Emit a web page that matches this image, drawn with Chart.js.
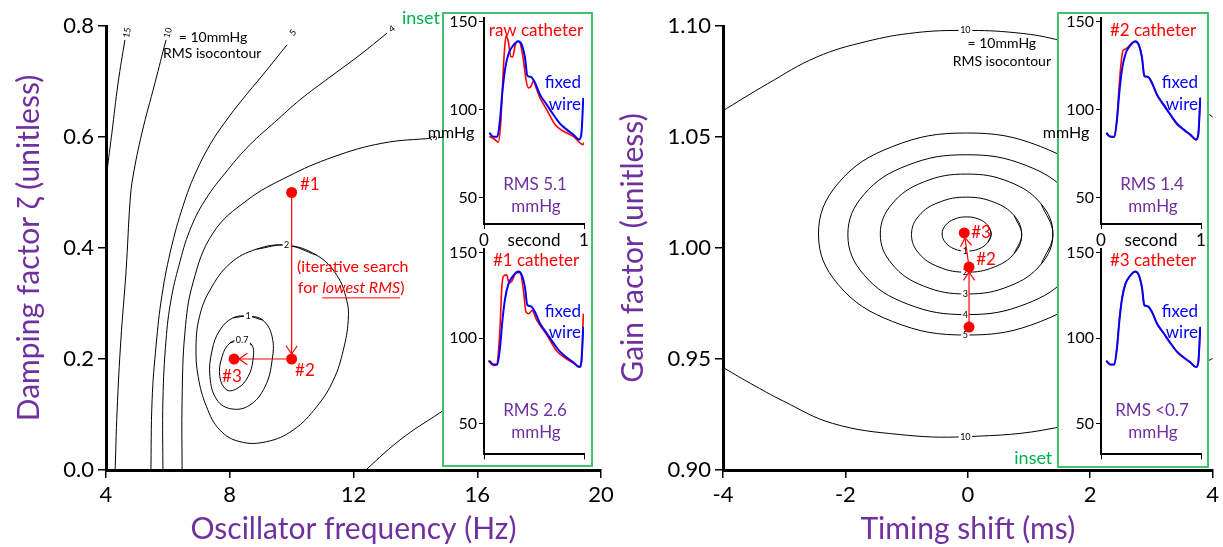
<!DOCTYPE html>
<html>
<head>
<meta charset="utf-8">
<script src="https://cdn.jsdelivr.net/npm/chart.js@4.4.1/dist/chart.umd.min.js"></script>
<style>
  html, body { margin: 0; padding: 0; background: #fff; }
  body { width: 1223px; height: 547px; position: relative; overflow: hidden; }
  canvas { position: absolute; }
  .box { position: absolute; border: 2px solid #45C06E; background: #fff; box-sizing: border-box; }
</style>
</head>
<body>
<canvas id="mainL" width="620" height="547" style="left:0;top:0"></canvas>
<canvas id="mainR" width="618" height="547" style="left:605px;top:0"></canvas>
<div class="box" style="left:442px;top:12px;width:151px;height:455px"></div>
<div class="box" style="left:1057px;top:12px;width:152px;height:456px"></div>
<canvas id="insLA" width="172" height="248" style="left:420px;top:5px"></canvas>
<canvas id="insLB" width="172" height="230" style="left:420px;top:236px"></canvas>
<canvas id="insRA" width="172" height="248" style="left:1037px;top:5px"></canvas>
<canvas id="insRB" width="172" height="230" style="left:1037px;top:236px"></canvas>
<script>
const FONT = 'Lato, "DejaVu Sans", sans-serif';
const PURPLE = '#7030A0', GREEN = '#00B050', RED = '#FF0000', BLUE = '#0000FF';

// ---- left panel: RMS isocontours, [oscillator frequency Hz, damping factor]
const iso15 = [[4.61, 0.775], [4.39, 0.697], [4.19, 0.607], [4.06, 0.550], [3.98, 0.510]];
const iso10L = [[5.94, 0.775], [5.58, 0.697], [5.16, 0.607], [4.87, 0.528], [4.78, 0.486], [4.65, 0.360], [4.48, 0.234], [4.36, 0.108], [4.29, -0.01]];
const iso5L = [[9.85, 0.766], [9.07, 0.712], [8.40, 0.667], [7.85, 0.627], [7.36, 0.586], [6.91, 0.537], [6.55, 0.486], [6.13, 0.405], [5.81, 0.315], [5.62, 0.225], [5.49, 0.126], [5.45, -0.01]];
const iso4L = [[13.08, 0.787], [12.21, 0.748], [11.24, 0.708], [10.27, 0.667], [9.46, 0.627], [8.65, 0.586], [7.94, 0.541], [7.20, 0.486], [6.71, 0.432], [6.36, 0.369], [6.10, 0.306], [5.94, 0.234], [5.84, 0.126], [5.84, -0.01]];
const iso3Ltop = [[15.2, 0.601], [14.57, 0.598], [12.95, 0.589], [11.34, 0.564], [9.85, 0.528], [8.56, 0.486], [7.46, 0.427], [6.81, 0.337], [6.55, 0.247], [6.46, 0.126], [6.46, -0.01]];
const iso3Lside = [[12.2, -0.01], [13.50, 0.054], [14.79, 0.103], [15.44, 0.126]];
const iso2L = [[9.84, 0.405], [10.81, 0.387], [11.46, 0.351], [11.78, 0.306], [11.83, 0.270], [11.67, 0.216], [11.35, 0.162], [10.81, 0.114], [10.05, 0.072], [9.19, 0.051], [8.33, 0.051], [7.68, 0.072], [7.25, 0.114], [6.98, 0.168], [6.91, 0.222], [7.02, 0.276], [7.36, 0.324], [8.01, 0.372], [8.87, 0.398]];
const iso1L = [[8.59, 0.277], [9.07, 0.270], [9.37, 0.240], [9.37, 0.198], [9.14, 0.150], [8.65, 0.117], [8.07, 0.110], [7.59, 0.126], [7.36, 0.168], [7.43, 0.216], [7.68, 0.252], [8.10, 0.274]];
const iso07L = [[8.40, 0.234], [8.72, 0.225], [8.75, 0.198], [8.59, 0.168], [8.27, 0.148], [7.91, 0.144], [7.68, 0.168], [7.75, 0.204], [8.01, 0.229]];
const searchL = [[10, 0.5], [10, 0.2], [8.14, 0.2]];   // #1, #2, #3

// ---- right panel: RMS isocontours, [timing shift ms, gain factor]
const iso10Rtop = [[-4.05, 1.061], [-3.27, 1.074], [-2.47, 1.086], [-1.66, 1.093], [-0.85, 1.097], [-0.04, 1.098], [0.77, 1.097], [1.43, 1.094], [2.4, 1.086], [3.2, 1.074], [3.85, 1.062], [4.05, 1.058]];
const iso10Rbot = [[-4.05, 0.947], [-3.55, 0.939], [-3.01, 0.931], [-2.21, 0.921], [-1.12, 0.916], [-0.04, 0.915], [1.43, 0.919], [2.5, 0.929], [3.85, 0.948], [4.05, 0.951]];
const iso5R = [[2.40, 1.0063], [2.08, 1.0291], [1.19, 1.0457], [-0.02, 1.0518], [-1.23, 1.0457], [-2.12, 1.0291], [-2.44, 1.0063], [-2.12, 0.9836], [-1.23, 0.9669], [-0.02, 0.9608], [1.19, 0.9669], [2.08, 0.9836]];
const iso4R = [[1.92, 1.006], [1.66, 1.024], [0.95, 1.0372], [-0.02, 1.042], [-0.99, 1.0372], [-1.70, 1.024], [-1.96, 1.006], [-1.70, 0.988], [-0.99, 0.9748], [-0.02, 0.970], [0.95, 0.9748], [1.66, 0.988]];
const iso3R = [[1.39, 1.0063], [1.20, 1.0198], [0.685, 1.0297], [-0.02, 1.0333], [-0.725, 1.0297], [-1.24, 1.0198], [-1.43, 1.0063], [-1.24, 0.9928], [-0.725, 0.9829], [-0.02, 0.9793], [0.685, 0.9829], [1.20, 0.9928]];
const iso2R = [[0.88, 1.006], [0.76, 1.0145], [0.43, 1.0206], [-0.02, 1.0229], [-0.47, 1.0206], [-0.80, 1.0145], [-0.92, 1.006], [-0.80, 0.9976], [-0.47, 0.9914], [-0.02, 0.9891], [0.43, 0.9914], [0.76, 0.9976]];
const iso1R = [[0.38, 1.0063], [0.326, 1.0102], [0.18, 1.0130], [-0.02, 1.0140], [-0.22, 1.0130], [-0.366, 1.0102], [-0.42, 1.0063], [-0.366, 1.0025], [-0.22, 0.9996], [-0.02, 0.9986], [0.18, 0.9996], [0.326, 1.0025]];
const searchR = [[0.02, 0.9644], [0.02, 0.9914], [-0.058, 1.0068]];

// ---- inset waveforms, [second, mmHg]
const fixedWire = [[0.053, 86.8], [0.093, 84.5], [0.133, 84.5], [0.16, 94.3], [0.183, 109.5], [0.21, 122.7], [0.243, 131.3], [0.293, 136.4], [0.343, 138.8], [0.377, 136.9], [0.41, 129.4], [0.433, 119.3], [0.467, 118.6], [0.51, 115.2], [0.56, 108.5], [0.627, 102.8], [0.693, 97.2], [0.76, 92.0], [0.827, 88.6], [0.893, 85.8], [0.95, 83.0], [0.973, 85.8], [0.993, 106.6]];
const rawCatheter = [[0.053, 84.8], [0.11, 83.0], [0.143, 81.4], [0.167, 92.4], [0.187, 115.2], [0.203, 132.2], [0.22, 141.7], [0.243, 138.8], [0.267, 130.3], [0.287, 129.9], [0.31, 136.0], [0.333, 138.8], [0.36, 137.9], [0.393, 128.4], [0.42, 117.0], [0.443, 112.3], [0.467, 112.9], [0.493, 116.1], [0.527, 111.4], [0.56, 106.6], [0.627, 100.0], [0.71, 91.5], [0.793, 87.7], [0.893, 84.8], [0.96, 81.1], [0.987, 80.1], [1.0, 81.1]];
const catheter1 = [[0.043, 86.8], [0.093, 84.0], [0.127, 84.5], [0.16, 105.7], [0.177, 128.4], [0.193, 136.0], [0.227, 136.9], [0.25, 132.2], [0.277, 133.1], [0.32, 137.9], [0.36, 138.3], [0.393, 128.4], [0.42, 115.2], [0.447, 114.2], [0.48, 116.1], [0.527, 110.4], [0.627, 101.9], [0.727, 92.4], [0.827, 87.7], [0.927, 84.3], [0.96, 83.0], [0.98, 90.6], [0.993, 114.2]];
const catheter2 = [[0.05, 86.5], [0.09, 84.8], [0.13, 84.3], [0.16, 95.0], [0.18, 112.0], [0.2, 126.0], [0.22, 133.5], [0.25, 134.5], [0.28, 136.0], [0.33, 138.5], [0.37, 137.5], [0.41, 129.5], [0.433, 118.8], [0.467, 118.6], [0.51, 114.8], [0.56, 108.2], [0.627, 102.3], [0.693, 97.0], [0.76, 91.6], [0.827, 88.6], [0.893, 85.5], [0.95, 82.8], [0.973, 86.0], [0.993, 107.0]];
const catheter3 = [[0.053, 86.6], [0.093, 84.4], [0.133, 84.6], [0.16, 94.8], [0.183, 110.5], [0.21, 123.5], [0.243, 131.6], [0.293, 136.5], [0.343, 138.7], [0.377, 136.8], [0.41, 129.2], [0.433, 119.0], [0.467, 118.4], [0.51, 115.0], [0.56, 108.2], [0.627, 102.6], [0.693, 97.0], [0.76, 91.9], [0.827, 88.5], [0.893, 85.7], [0.95, 83.0], [0.973, 85.8], [0.993, 106.4]];
const insetTicks = [50, 100, 150];

const pts = a => a.map(([x, y]) => ({ x, y }));
const closed = a => [a[a.length - 1], ...a, a[0], a[1]];

function contour(a) {
  return { data: pts(a), showLine: true, borderColor: '#000', borderWidth: 1, pointRadius: 0, tension: 0.4, fill: false };
}

// draws text and arrowheads in data coordinates
function drawList(chart, list) {
  const ctx = chart.ctx, xs = chart.scales.x, ys = chart.scales.y;
  list.forEach(n => {
    const size = n.size || 14;
    const parts = n.parts || [{ t: n.text }];
    const fontOf = p => (p.italic ? 'italic ' : '') + size + 'px ' + FONT;
    ctx.save();
    ctx.translate(xs.getPixelForValue(n.x), ys.getPixelForValue(n.y));
    if (n.rot) ctx.rotate(n.rot * Math.PI / 180);
    ctx.textBaseline = 'middle';
    ctx.textAlign = 'left';
    const widths = parts.map(p => { ctx.font = fontOf(p); return ctx.measureText(p.t).width; });
    const total = widths.reduce((s, w) => s + w, 0);
    let x0 = n.align === 'left' ? 0 : n.align === 'right' ? -total : -total / 2;
    if (n.bg) { ctx.fillStyle = '#fff'; ctx.fillRect(x0 - 1.5, -size * 0.45, total + 3, size * 0.9); }
    ctx.fillStyle = ctx.strokeStyle = n.color || '#000';
    parts.forEach((p, i) => {
      ctx.font = fontOf(p);
      ctx.fillText(p.t, x0, 0);
      if (p.underline) {
        ctx.lineWidth = 1;
        ctx.beginPath(); ctx.moveTo(x0, size * 0.62); ctx.lineTo(x0 + widths[i], size * 0.62); ctx.stroke();
      }
      x0 += widths[i];
    });
    ctx.restore();
  });
}

function drawHeads(chart, path) {
  const ctx = chart.ctx, xs = chart.scales.x, ys = chart.scales.y;
  ctx.save();
  ctx.strokeStyle = RED; ctx.lineWidth = 1.2;
  for (let i = 1; i < path.length; i++) {
    const x1 = xs.getPixelForValue(path[i - 1][0]), y1 = ys.getPixelForValue(path[i - 1][1]);
    const x2 = xs.getPixelForValue(path[i][0]), y2 = ys.getPixelForValue(path[i][1]);
    const ang = Math.atan2(y2 - y1, x2 - x1);
    const tx = x2 - Math.cos(ang) * 5, ty = y2 - Math.sin(ang) * 5;
    [-1, 1].forEach(s => {
      ctx.beginPath();
      ctx.moveTo(tx, ty);
      ctx.lineTo(tx - Math.cos(ang + s * 0.6) * 10, ty - Math.sin(ang + s * 0.6) * 10);
      ctx.stroke();
    });
  }
  ctx.restore();
}

function notes(spec) {
  return {
    id: 'notes',
    afterDatasetDraw(chart, args) {
      if (spec.labels && args.index === spec.labelAfter) drawList(chart, spec.labels);
    },
    afterDatasetsDraw(chart) {
      if (spec.path) drawHeads(chart, spec.path);
      drawList(chart, spec.items || []);
    }
  };
}

function mainOptions(xr, yr, xTitle, yTitle, yDigits, yWidth, padRight, yTitlePad) {
  const tickFont = { size: 22, family: FONT };
  const titleFont = { size: 30, family: FONT };
  return {
    responsive: false, animation: false,
    layout: { padding: { top: 26, right: padRight, left: 0, bottom: 0 } },
    plugins: { legend: { display: false }, tooltip: { enabled: false } },
    scales: {
      x: {
        type: 'linear', min: xr[0], max: xr[1],
        ticks: { stepSize: xr[2], color: '#000', font: tickFont, padding: 4, maxRotation: 0 },
        grid: { drawOnChartArea: false, color: '#000', tickLength: 8, lineWidth: 1.5 },
        border: { color: '#000', width: 3 },
        title: { display: true, text: xTitle, color: PURPLE, font: titleFont, padding: { top: 0, bottom: 0 } },
        afterFit: s => { s.height = 77; }
      },
      y: {
        type: 'linear', min: yr[0], max: yr[1],
        ticks: { stepSize: yr[2], color: '#000', font: tickFont, padding: 4, callback: v => v.toFixed(yDigits) },
        grid: { drawOnChartArea: false, color: '#000', tickLength: 8, lineWidth: 1.5 },
        border: { color: '#000', width: 3 },
        title: { display: true, text: yTitle, color: PURPLE, font: titleFont, padding: { top: yTitlePad, bottom: 0 } },
        afterFit: s => { s.width = yWidth; }
      }
    }
  };
}

function dots(a) {
  return { data: pts(a), showLine: false, pointRadius: 5.5, pointBackgroundColor: RED, pointBorderWidth: 0 };
}
function searchLine(a) {
  return { data: pts(a), showLine: true, borderColor: RED, borderWidth: 1.2, pointRadius: 0, tension: 0 };
}

// ---- left main chart
new Chart(document.getElementById('mainL'), {
  type: 'scatter',
  data: {
    datasets: [dots(searchL), searchLine(searchL),
      contour(iso15), contour(iso10L), contour(iso5L), contour(iso4L), contour(iso3Ltop), contour(iso3Lside),
      contour(closed(iso2L)), contour(closed(iso1L)), contour(closed(iso07L))]
  },
  options: mainOptions([4, 20, 4], [0, 0.8, 0.2], 'Oscillator frequency (Hz)', 'Damping factor ζ (unitless)', 1, 106, 19, 11),
  plugins: [notes({
    labelAfter: 2,
    labels: [
      { x: 4.68, y: 0.788, text: '15', size: 9, rot: -80, bg: true },
      { x: 6.0, y: 0.788, text: '10', size: 9, rot: -75, bg: true },
      { x: 10.04, y: 0.788, text: '5', size: 9, rot: -50, bg: true },
      { x: 13.24, y: 0.795, text: '4', size: 9, rot: -35, bg: true },
      { x: 14.6, y: 0.598, text: '3', size: 9, rot: -90, bg: true },
      { x: 9.84, y: 0.405, text: '2', size: 9, bg: true },
      { x: 8.59, y: 0.277, text: '1', size: 9, bg: true },
      { x: 8.40, y: 0.234, text: '0.7', size: 9, bg: true }
    ],
    path: searchL,
    items: [
      { x: 7.46, y: 0.780, text: '= 10mmHg', size: 14 },
      { x: 7.43, y: 0.750, text: 'RMS isocontour', size: 14 },
      { x: 14.18, y: 0.814, text: 'inset', size: 18, color: GREEN },
      { x: 10.27, y: 0.514, text: '#1', size: 17, color: RED, align: 'left' },
      { x: 10.11, y: 0.180, text: '#2', size: 17, color: RED, align: 'left' },
      { x: 7.75, y: 0.169, text: '#3', size: 17, color: RED, align: 'left' },
      { x: 10.17, y: 0.366, text: '(iterative search', size: 16, color: RED, align: 'left' },
      { x: 10.2, y: 0.328, size: 16, color: RED, align: 'left',
        parts: [{ t: 'for ' }, { t: 'lowest RMS', italic: true, underline: true }, { t: ')' }] }
    ]
  })]
});

// ---- right main chart
new Chart(document.getElementById('mainR'), {
  type: 'scatter',
  data: {
    datasets: [dots(searchR), searchLine(searchR),
      contour(iso10Rtop), contour(iso10Rbot), contour(closed(iso5R)), contour(closed(iso4R)),
      contour(closed(iso3R)), contour(closed(iso2R)), contour(closed(iso1R))]
  },
  options: mainOptions([-4, 4, 2], [0.9, 1.1, 0.05], 'Timing shift (ms)', 'Gain factor (unitless)', 2, 118, 7, 10),
  plugins: [notes({
    labelAfter: 2,
    labels: [
      { x: -0.04, y: 1.098, text: '10', size: 9, bg: true },
      { x: -0.04, y: 0.915, text: '10', size: 9, bg: true },
      { x: -0.04, y: 0.9986, text: '1', size: 9, bg: true },
      { x: -0.04, y: 0.9891, text: '2', size: 9, bg: true },
      { x: -0.04, y: 0.9793, text: '3', size: 9, bg: true },
      { x: -0.04, y: 0.970, text: '4', size: 9, bg: true },
      { x: -0.04, y: 0.9608, text: '5', size: 9, bg: true }
    ],
    path: searchR,
    items: [
      { x: 0.556, y: 1.0923, text: '= 10mmHg', size: 14 },
      { x: 0.556, y: 1.0842, text: 'RMS isocontour', size: 14 },
      { x: 1.07, y: 0.9054, text: 'inset', size: 18, color: GREEN },
      { x: 0.055, y: 1.0068, text: '#3', size: 17, color: RED, align: 'left' },
      { x: 0.136, y: 0.9946, text: '#2', size: 17, color: RED, align: 'left' }
    ]
  })]
});

// ---- insets
function inset(id, cath, yMin, showX, xAxisH, items) {
  new Chart(document.getElementById(id), {
    type: 'scatter',
    data: {
      datasets: [
        { data: pts(fixedWire), showLine: true, borderColor: BLUE, borderWidth: 2, pointRadius: 0, cubicInterpolationMode: 'monotone' },
        { data: pts(cath), showLine: true, borderColor: RED, borderWidth: 1.6, pointRadius: 0, cubicInterpolationMode: 'monotone' }
      ]
    },
    options: {
      responsive: false, animation: false,
      layout: { padding: { top: 13, right: 8, left: 0, bottom: 0 } },
      plugins: { legend: { display: false }, tooltip: { enabled: false } },
      scales: {
        x: {
          type: 'linear', min: 0, max: 1,
          afterBuildTicks: s => { s.ticks = (showX ? [0, 0.5, 1] : [0, 1]).map(v => ({ value: v })); },
          ticks: { display: showX, color: '#000', font: { size: 17, family: FONT }, padding: 1, maxRotation: 0, autoSkip: false,
                   callback: v => v === 0.5 ? 'second' : String(v) },
          grid: { drawOnChartArea: false, tickLength: 5, color: c => (c.tick && c.tick.value === 0.5) ? 'rgba(0,0,0,0)' : '#000' },
          border: { color: '#000', width: 2 },
          afterFit: s => { s.height = xAxisH; }
        },
        y: {
          type: 'linear', min: yMin, max: 152,
          afterBuildTicks: s => { s.ticks = insetTicks.map(v => ({ value: v })); },
          ticks: { color: '#000', font: { size: 16, family: FONT }, padding: 2 },
          grid: { drawOnChartArea: false, tickLength: 5, color: '#000' },
          border: { color: '#000', width: 2 },
          afterFit: s => { s.width = 64; }
        }
      }
    },
    plugins: [notes({ items })]
  });
}

const insetText = (name, rms) => [
  { x: 0.52, y: 145, text: name, size: 17, color: RED },
  { x: 0.97, y: 115.5, text: 'fixed', size: 17, color: BLUE, align: 'right' },
  { x: 0.97, y: 103, text: 'wire', size: 17, color: BLUE, align: 'right' },
  { x: 0.51, y: 57.5, text: rms, size: 17, color: PURPLE },
  { x: 0.52, y: 45, text: 'mmHg', size: 17, color: PURPLE }
];

inset('insLA', rawCatheter, 35, true, 29, insetText('raw catheter', 'RMS 5.1').concat([{ x: -0.33, y: 86.9, text: 'mmHg', size: 16 }]));
inset('insLB', catheter1, 32, false, 6, insetText('#1 catheter', 'RMS 2.6'));
inset('insRA', catheter2, 35, true, 29, insetText('#2 catheter', 'RMS 1.4').concat([{ x: -0.35, y: 86.9, text: 'mmHg', size: 16 }]));
inset('insRB', catheter3, 32, false, 6, insetText('#3 catheter', 'RMS <0.7'));
</script>
</body>
</html>
